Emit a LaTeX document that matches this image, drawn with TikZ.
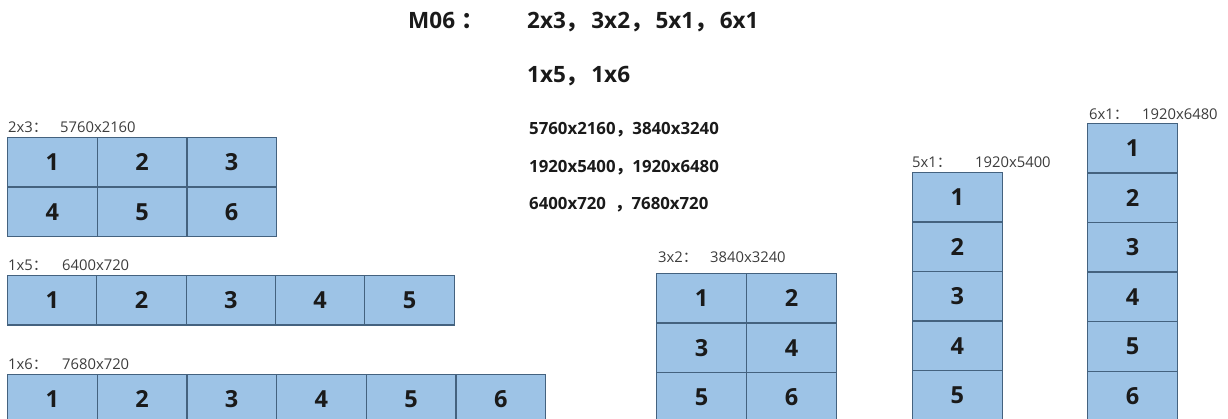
\documentclass[tikz,border=0pt]{standalone}
\usepackage{fontspec}
\setmainfont{Open Sans}
\newfontfamily\cjk{Noto Sans CJK SC}
\newcommand{\fcomma}{{\cjk ，}}
\newcommand{\tcomma}{{\cjk ，}\hspace{3pt}}
\newcommand{\fcolon}{{\cjk ：}}
\definecolor{cellfill}{HTML}{9DC3E6}
\definecolor{cellline}{HTML}{44627F}
\definecolor{txt}{HTML}{1A1A1A}
\begin{document}
\begin{tikzpicture}[x=1pt,y=-1pt,
  cell/.style={draw=cellline,line width=1.1pt,fill=cellfill,minimum width=89.5pt,minimum height=49.5pt,inner sep=0pt,anchor=north west,font=\fontsize{23.5}{23.5}\selectfont\bfseries,text=txt},
  title/.style={anchor=base west,font=\fontsize{22.5}{22.5}\selectfont\bfseries,text=txt,inner sep=0pt},
  res/.style={anchor=base west,font=\fontsize{16.8}{16.8}\selectfont\bfseries,text=txt,inner sep=0pt},
  lbl/.style={anchor=base west,font=\fontsize{14.8}{14.8}\selectfont,text=txt!85,inner sep=0pt}]
\useasboundingbox (0,0) rectangle (1228,419);
\clip (0,0) rectangle (1228,419);
% titles
\node[title] (m06) at (408,29) {M06\hspace{6pt}\fcolon};
\node[title] (t1) at (527,29) {2x3\tcomma 3x2\tcomma 5x1\tcomma 6x1};
\node[title] (t2) at (527,83) {1x5\tcomma 1x6};
\node[res] (r1) at (529,135) {5760x2160\fcomma 3840x3240};
\node[res] (r2) at (529,173) {1920x5400\fcomma 1920x6480};
\node[res] (r3) at (529,210) {6400x720 \ \fcomma 7680x720};
% labels
\node[lbl] (l23) at (8,133) {2x3\fcolon};
\node[lbl] (l23r) at (60,133) {5760x2160};
\node[lbl] (l15) at (8,271) {1x5\fcolon};
\node[lbl] (l15r) at (62,271) {6400x720};
\node[lbl] (l16) at (8,370) {1x6\fcolon};
\node[lbl] (l16r) at (62,370) {7680x720};
\node[lbl] (l32) at (658,263) {3x2\fcolon};
\node[lbl] (l32r) at (710,263) {3840x3240};
\node[lbl] (l51) at (912,168) {5x1\fcolon};
\node[lbl] (l51r) at (975,168) {1920x5400};
\node[lbl] (l61) at (1089,120) {6x1\fcolon};
\node[lbl] (l61r) at (1142,120) {1920x6480};
% 2x3
\foreach \r in {0,1}{\foreach \c in {0,1,2}{
  \pgfmathtruncatemacro\n{\r*3+\c+1}
  \node[cell] (a\n) at (7+89.7*\c,137+49.5*\r) {\n};}}
% 1x5
\foreach \c in {1,...,5}{
  \node[cell] (b\c) at (7+89.3*\c-89.3,275) {\c};}
% 1x6
\foreach \c in {1,...,6}{
  \node[cell] (c\c) at (7+89.7*\c-89.7,374) {\c};}
% 3x2
\foreach \r in {0,1,2}{\foreach \c in {0,1}{
  \pgfmathtruncatemacro\n{\r*2+\c+1}
  \node[cell,minimum width=90pt] (d\n) at (656+90*\c,273+49.5*\r) {\n};}}
% 5x1
\foreach \r in {1,...,5}{
  \node[cell] (e\r) at (912,172+49.5*\r-49.5) {\r};}
% 6x1
\foreach \r in {1,...,6}{
  \node[cell,minimum width=90pt] (f\r) at (1087,123+49.5*\r-49.5) {\r};}
\end{tikzpicture}
\end{document}
